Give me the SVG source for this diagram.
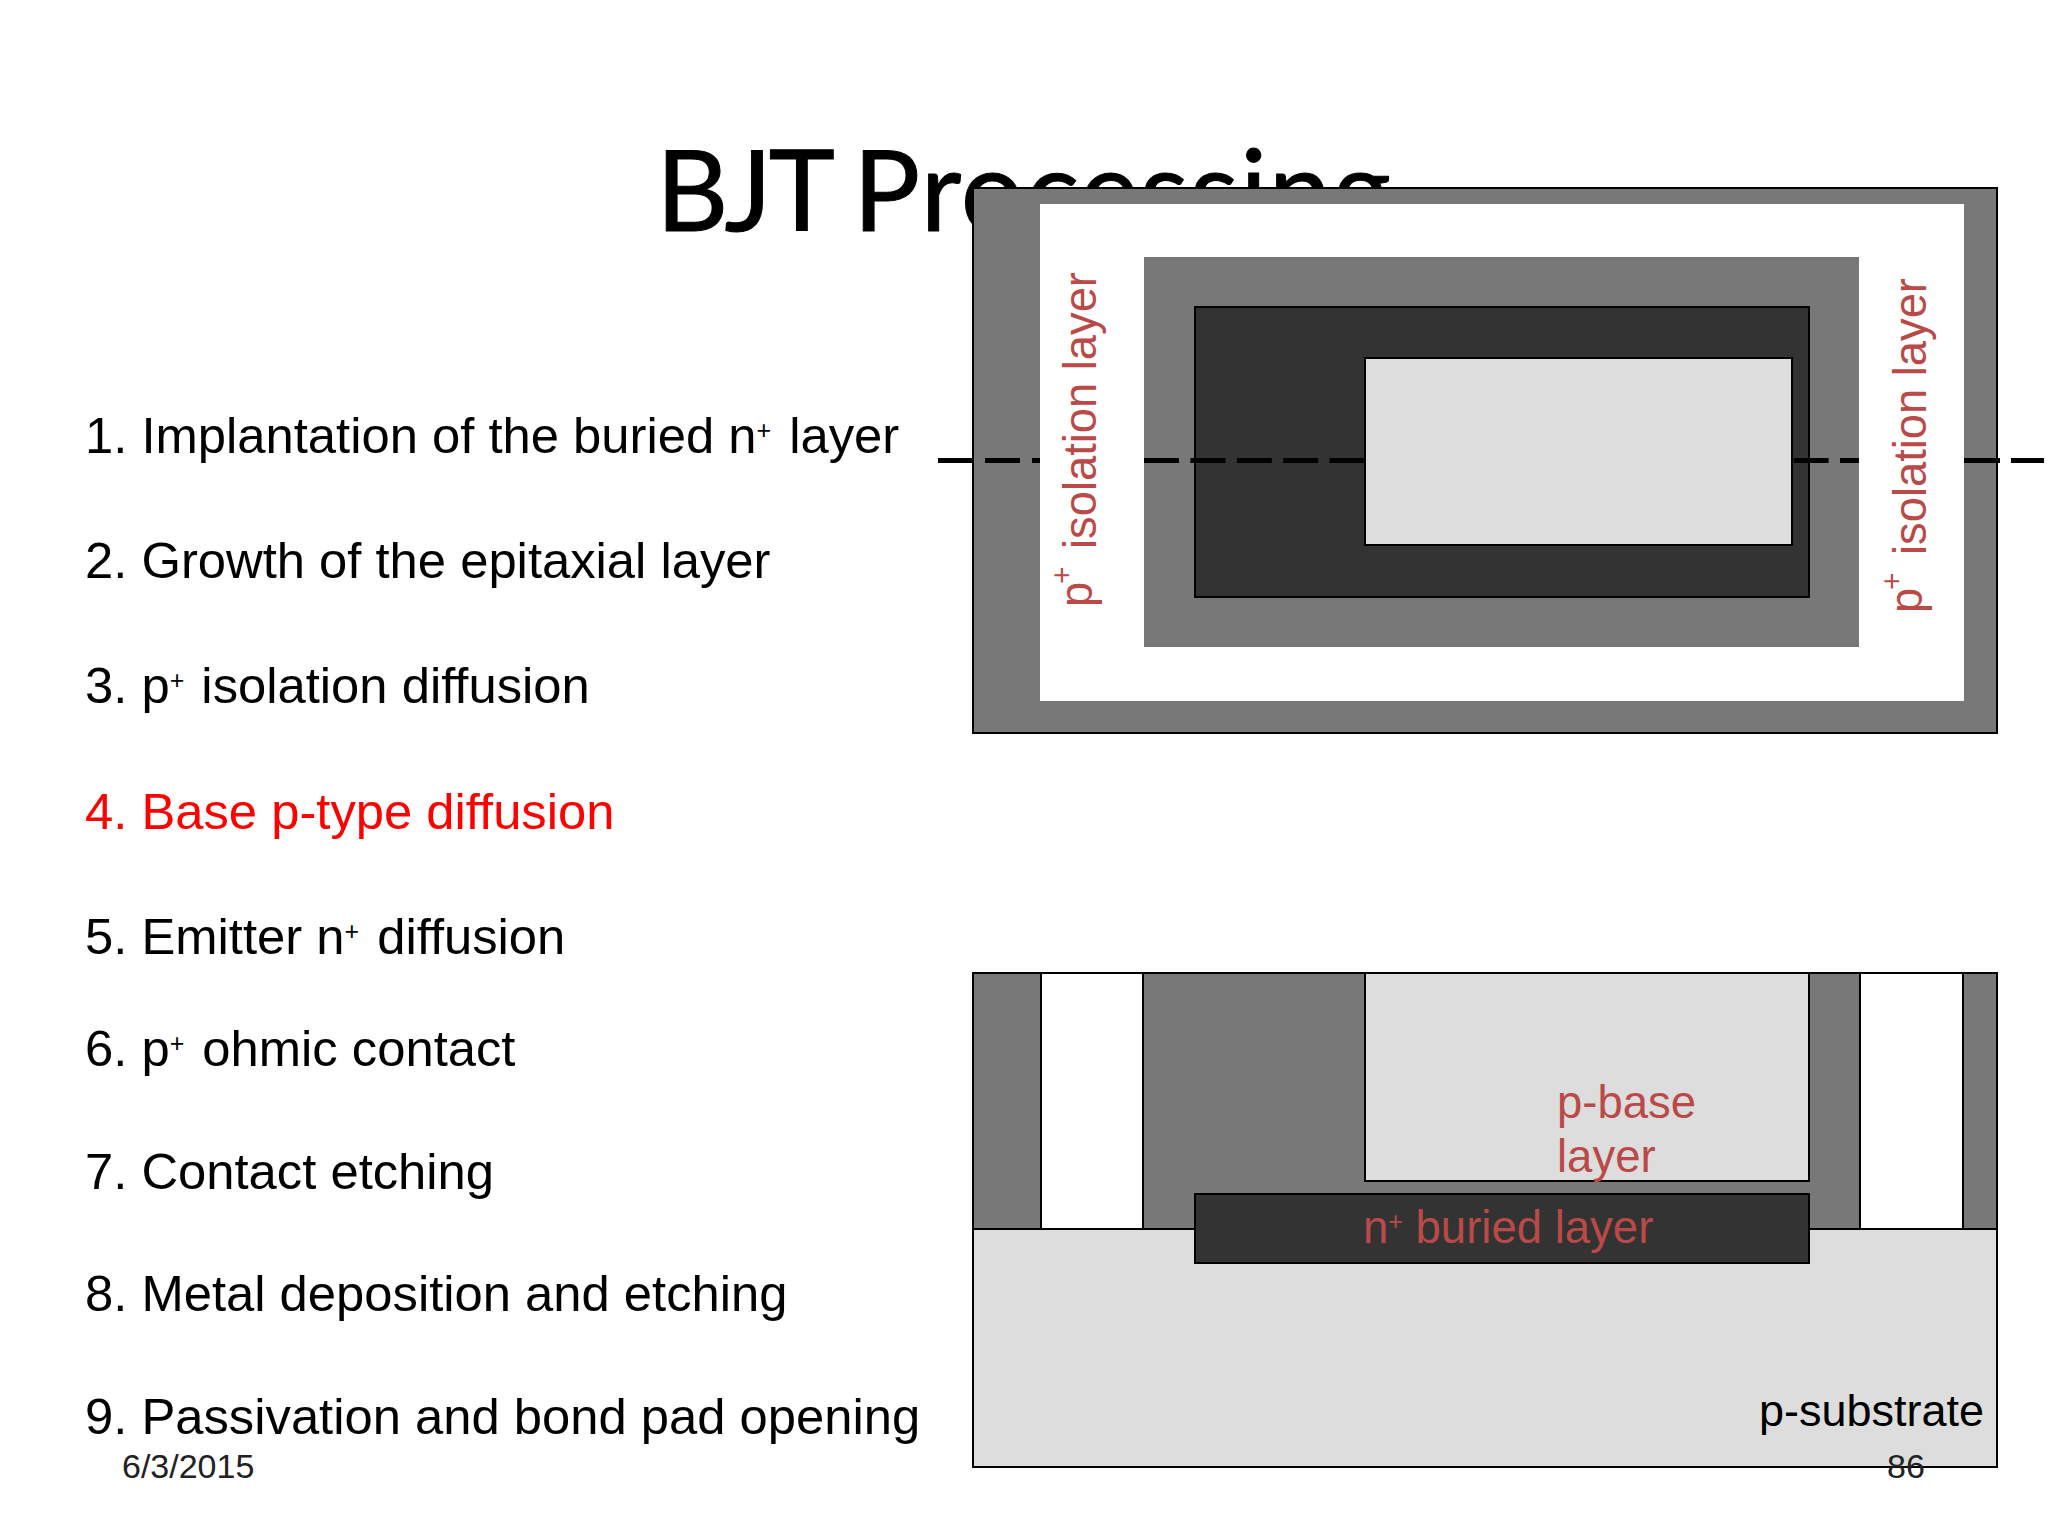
<svg xmlns="http://www.w3.org/2000/svg" width="2048" height="1536" viewBox="0 0 2048 1536">
<style>
text{font-family:"Liberation Sans",Arial,sans-serif}
.l{font-size:50.75px;fill:#000}
.r{fill:#b94a48;font-size:45.3px}
.s{stroke:#000;stroke-width:2}
.d{fill:#787878}.k{fill:#333}.g{fill:#ddd}.w{fill:#fff}
.f{font-size:34px;fill:#222}
.u{font-size:25px;baseline-shift:14px}
.p{font-size:30px}
.c{stroke:#000;stroke-width:5}
</style>
<rect width="2048" height="1536" fill="#fff"/>
<text id="title" y="231" font-size="112" stroke="#000" stroke-width="1" style="font-family:Lato,sans-serif"><tspan x="656" letter-spacing="-3">BJT</tspan><tspan x="853" letter-spacing="1.5">Processing</tspan></text>
<g id="list">
<text class="l" x="85" y="453">1. Implantation of the buried n<tspan class="u">+</tspan><tspan dx="4"> layer</tspan></text>
<text class="l" x="85" y="578">2. Growth of the epitaxial layer</text>
<text class="l" x="85" y="703">3. p<tspan class="u">+</tspan><tspan dx="3"> isolation diffusion</tspan></text>
<text class="l" x="85" y="829" style="fill:#f00">4. Base p-type diffusion</text>
<text class="l" x="85" y="954">5. Emitter n<tspan class="u">+</tspan><tspan dx="4"> diffusion</tspan></text>
<text class="l" x="85" y="1066">6. p<tspan class="u">+</tspan><tspan dx="4"> ohmic contact</tspan></text>
<text class="l" x="85" y="1189">7. Contact etching</text>
<text class="l" x="85" y="1311">8. Metal deposition and etching</text>
<text class="l" x="85" y="1434">9. Passivation and bond pad opening</text>
</g>
<g id="top-view">
<rect class="d s" x="973" y="188" width="1024" height="545"/>
<rect class="w" x="1040" y="204" width="924" height="497"/>
<rect class="d" x="1144" y="257" width="715" height="390"/>
<rect class="k s" x="1195" y="307" width="614" height="290"/>
</g>
<g id="connectors">
<line class="c" x1="938" y1="460.5" x2="1040" y2="460.5" stroke-dasharray="35 12"/>
<line class="c" x1="1144" y1="460.5" x2="1859" y2="460.5" stroke-dasharray="35 11.4"/>
<line class="c" x1="1964" y1="460.5" x2="2000" y2="460.5"/>
<line class="c" x1="2011" y1="460.5" x2="2044" y2="460.5"/>
</g>
<g id="top-view-over">
<rect class="g s" x="1365" y="358" width="427" height="187"/>
<text class="r" transform="translate(1096 549) rotate(-90)"><tspan x="-58" y="-4">p</tspan><tspan class="p" x="-35" y="-24">+</tspan><tspan x="0" y="0">isolation layer</tspan></text>
<text class="r" transform="translate(1926 555) rotate(-90)"><tspan x="-58" y="-4">p</tspan><tspan class="p" x="-35" y="-24">+</tspan><tspan x="0" y="0">isolation layer</tspan></text>
</g>
<g id="cross-section">
<rect class="d s" x="973" y="973" width="1024" height="257"/>
<rect class="w s" x="1041" y="973" width="102" height="257"/>
<rect class="w s" x="1860" y="973" width="103" height="257"/>
<rect class="g s" x="973" y="1229" width="1024" height="238"/>
<rect class="g s" x="1365" y="973" width="444" height="208"/>
<rect class="k s" x="1195" y="1194" width="614" height="69"/>
<text class="r" style="font-size:45.5px" x="1557" y="1118">p-base</text>
<text class="r" style="font-size:45.5px" x="1557" y="1172">layer</text>
<text class="r" style="font-size:45.5px" x="1363" y="1243">n<tspan class="u" style="baseline-shift:13px">+</tspan> buried layer</text>
<text x="1759" y="1426" font-size="45">p-substrate</text>
</g>
<g id="footer">
<text class="f" x="122" y="1478">6/3/2015</text>
<text class="f" x="1887" y="1478">86</text>
</g>
</svg>
